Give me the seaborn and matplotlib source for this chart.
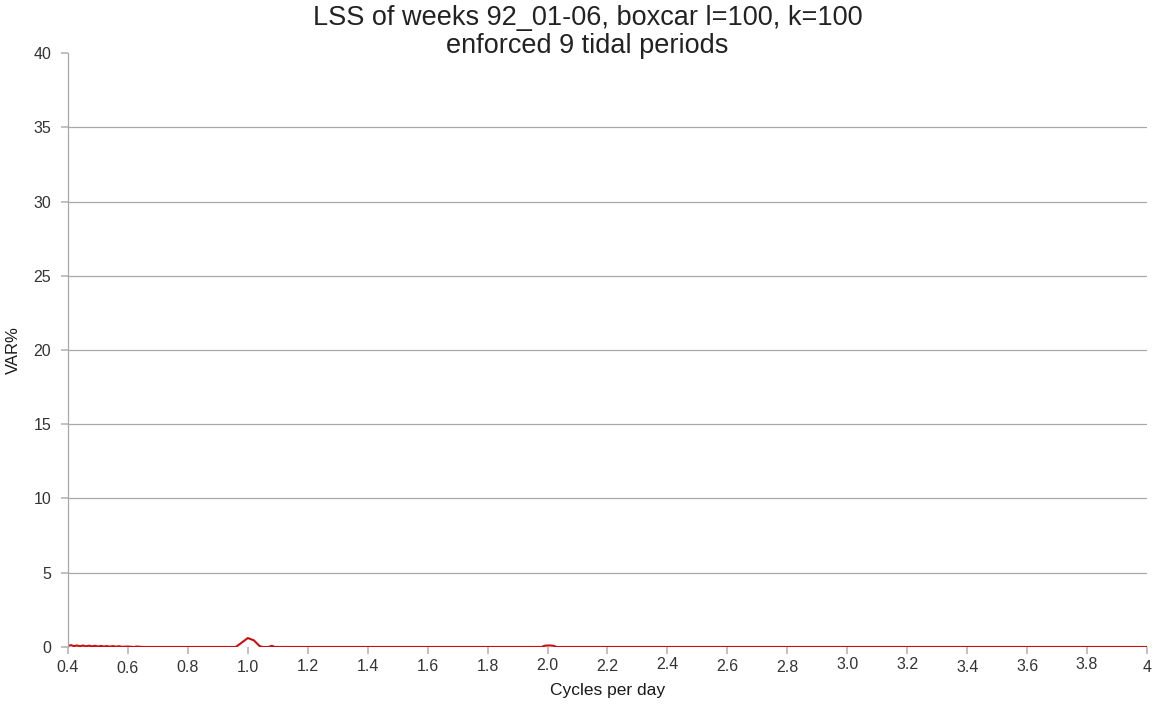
import matplotlib
matplotlib.use("Agg")
import matplotlib.pyplot as plt
import matplotlib.transforms as mtrans
import seaborn as sns
import pandas as pd

sns.set_theme(style="white")
plt.rcParams['font.family'] = ['Liberation Sans', 'DejaVu Sans']

# Frequency (cycles per day) and variance explained (%)
freq = [0.40, 0.41, 0.42, 0.43, 0.44, 0.45, 0.46, 0.47, 0.48, 0.49, 0.50,
        0.51, 0.52, 0.53, 0.54, 0.55, 0.56, 0.57, 0.58, 0.60, 0.62, 0.63,
        0.65, 0.90, 0.96, 0.98, 1.00, 1.02, 1.04, 1.05, 1.07, 1.08, 1.09,
        1.12, 1.98, 1.99, 2.00, 2.01, 2.02, 2.03, 4.00]
var_pct = [0.08, 0.12, 0.06, 0.10, 0.05, 0.10, 0.04, 0.09, 0.04, 0.08, 0.03,
           0.07, 0.03, 0.06, 0.02, 0.06, 0.02, 0.05, 0.01, 0.03, 0.00, 0.03,
           0.00, 0.00, 0.00, 0.30, 0.60, 0.45, 0.05, 0.00, 0.00, 0.08, 0.00,
           0.00, 0.00, 0.08, 0.10, 0.10, 0.08, 0.00, 0.00]

xticks = [0.4, 0.6, 0.8, 1.0, 1.2, 1.4, 1.6, 1.8, 2.0, 2.2, 2.4, 2.6, 2.8,
          3.0, 3.2, 3.4, 3.6, 3.8, 4.0]
xtick_labels = ["0.4", "0.6", "0.8", "1.0", "1.2", "1.4", "1.6", "1.8", "2.0",
                "2.2", "2.4", "2.6", "2.8", "3.0", "3.2", "3.4", "3.6", "3.8", "4"]
yticks = [0, 5, 10, 15, 20, 25, 30, 35, 40]

df = pd.DataFrame({"freq": freq, "var": var_pct})

fig = plt.figure(figsize=(11.56, 7.04), dpi=100)
ax = fig.add_axes([0.0588, 0.081, 0.9334, 0.8437])

for y in yticks[1:-1]:
    ax.axhline(y, color="#a8a8a8", lw=0.9, zorder=0)

sns.lineplot(data=df, x="freq", y="var", color="#cc0d0d", lw=1.5, ax=ax)

ax.set_xlim(0.4, 4.0)
ax.set_ylim(0, 40)
ax.set_xticks(xticks)
ax.set_xticklabels(xtick_labels)
ax.set_yticks(yticks)
ax.tick_params(axis="x", direction="out", length=5, color="#b8b8b8",
               labelsize=11.5, labelcolor="#333333", pad=4, bottom=True)
ax.tick_params(axis="y", direction="out", length=5, color="#b8b8b8",
               labelsize=11.5, labelcolor="#333333", pad=7, left=True)

# slight vertical jitter of labels as in the reference
offsets = [-1, -2, -1, -1, 0, 0, 0, 0, 1, 0, 2, 0, -1, 2, 2, -1, 0, 2, -1]
for lab, dy in zip(ax.get_xticklabels(), offsets):
    lab.set_transform(lab.get_transform() + mtrans.ScaledTranslation(0, dy / 100, fig.dpi_scale_trans))

for s in ["top", "right", "bottom"]:
    ax.spines[s].set_visible(False)
ax.spines["left"].set_color("#a8a8a8")
ax.spines["left"].set_linewidth(0.9)

ax.set_xlabel("Cycles per day", fontsize=12.5, color="#1a1a1a", labelpad=5)
ax.set_ylabel("VAR%", fontsize=12, color="#1a1a1a", labelpad=9)
ax.set_title("LSS of weeks 92_01-06, boxcar l=100, k=100\nenforced 9 tidal periods",
             fontsize=19.5, color="#222222", pad=0, linespacing=1.12, x=0.4815)

fig.savefig("out.png", dpi=100, facecolor="white")
